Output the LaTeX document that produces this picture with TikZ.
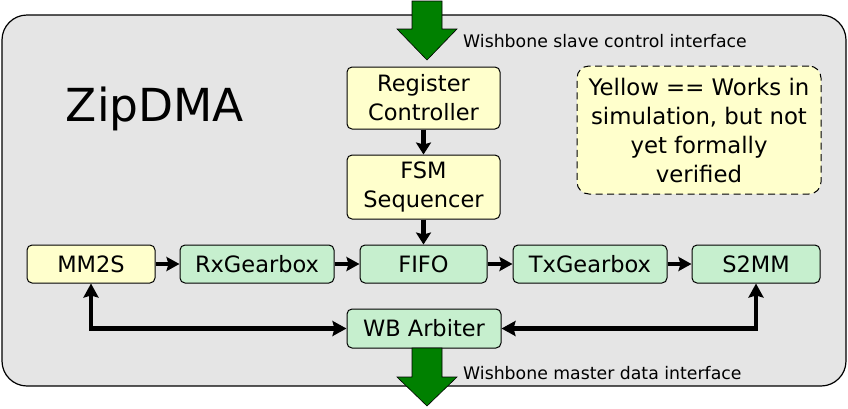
\documentclass[tikz,border=0pt]{standalone}
\usepackage{fontspec}
\setmainfont{DejaVu Sans}
\usetikzlibrary{arrows.meta}
\definecolor{bgray}{HTML}{E5E5E5}
\definecolor{yel}{HTML}{FFFFCC}
\definecolor{grn}{HTML}{C6EFCE}
\definecolor{darkg}{HTML}{008000}
\tikzset{
  blk/.style={draw=black, line width=1pt, rounded corners=5pt, inner sep=0pt, align=center,
     font=\fontsize{22.5}{29}\selectfont},
  yblk/.style={blk, fill=yel},
  gblk/.style={blk, fill=grn},
  conn/.style={line width=4.5pt, -{Stealth[length=13pt,width=14pt,inset=2pt]}},
  vconn/.style={line width=5pt, -{Stealth[length=12pt,width=15pt,inset=2pt]}},
  biconn/.style={line width=4.5pt, {Stealth[length=14pt,width=15pt,inset=2pt]}-{Stealth[length=14pt,width=15pt,inset=2pt]}},
  bigarrow/.style={fill=darkg, draw=black, line width=0.6pt},
  lbl/.style={font=\fontsize{17.3}{20}\selectfont, anchor=west, inner sep=0pt}
}
\begin{document}
\begin{tikzpicture}[x=1pt,y=-1pt]
\useasboundingbox (0,0) rectangle (848,408);
% background panel
\draw[fill=bgray, line width=1.2pt, rounded corners=25pt] (2,15) rectangle (846,386);
% title
\node[font=\fontsize{45.5}{52}\selectfont, inner sep=0pt, anchor=base] (title) at (155,121.7) {ZipDMA};
% note
\node[draw=black, dash pattern=on 7pt off 4.5pt, line width=1pt, fill=yel, rounded corners=12pt,
      minimum width=244pt, minimum height=128pt, inner sep=0pt, align=center,
      font=\fontsize{22.8}{29}\selectfont] (note) at (699,130)
      {Yellow == Works in\\simulation, but not\\yet formally\\verified};
% blocks
\node[yblk, minimum width=153pt, minimum height=62pt] (reg) at (423.5,98) {Register\\Controller};
\node[yblk, minimum width=153pt, minimum height=64pt] (fsm) at (423.5,187) {FSM\\Sequencer};
\node[yblk, minimum width=128pt, minimum height=38pt] (mm2s) at (91,264) {MM2S};
\node[gblk, minimum width=154pt, minimum height=38pt] (rx) at (257,264) {RxGearbox};
\node[gblk, minimum width=127pt, minimum height=38pt] (fifo) at (423.5,264) {FIFO};
\node[gblk, minimum width=154pt, minimum height=38pt] (tx) at (590,264) {TxGearbox};
\node[gblk, minimum width=128pt, minimum height=38pt] (s2mm) at (756,264) {S2MM};
\node[gblk, minimum width=154pt, minimum height=39pt] (wb) at (424,328.5) {WB Arbiter};
% connectors
\draw[vconn] (reg) -- (fsm);
\draw[vconn] (fsm) -- (fifo);
\draw[conn] (mm2s) -- (rx);
\draw[conn] (rx) -- (fifo);
\draw[conn] (fifo) -- (tx);
\draw[conn] (tx) -- (s2mm);
\draw[biconn] (mm2s.south) |- (wb.west);
\draw[biconn] (s2mm.south) |- (wb.east);
% big green interface arrows
\draw[bigarrow] (412,1) -- (442,1) -- (442,29) -- (457,29) -- (427,60) -- (397,29) -- (412,29) -- cycle;
\draw[bigarrow] (412,348) -- (442,348) -- (442,377) -- (457,377) -- (427,406) -- (397,377) -- (412,377) -- cycle;
\node[lbl] (slv) at (463,41) {Wishbone slave control interface};
\node[lbl] (mst) at (463,373) {Wishbone master data interface};
\end{tikzpicture}
\end{document}
